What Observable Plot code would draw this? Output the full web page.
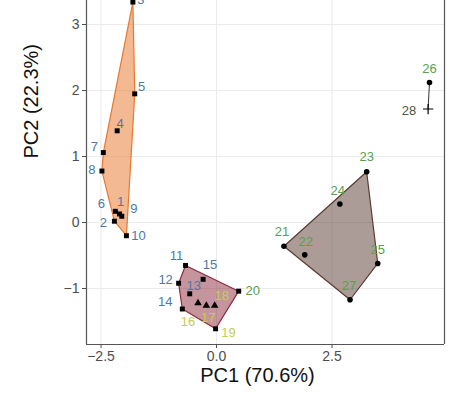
<!DOCTYPE html>
<html>
<head>
<meta charset="utf-8">
<script src="https://cdn.jsdelivr.net/npm/d3@7"></script>
<script src="https://cdn.jsdelivr.net/npm/@observablehq/plot@0.6"></script>
<style>
  html, body { margin: 0; padding: 0; background: #fff; }
  #chart { width: 450px; height: 403px; overflow: hidden; }
</style>
</head>
<body>
<div id="chart"></div>
<script>
// Sample scores on the first two principal components
const sampleIds = [1, 2, 3, 4, 5, 6, 7, 8, 9, 10,
                   11, 12, 13, 14, 15, 16, 17, 18, 19, 20,
                   21, 22, 23, 24, 25, 26, 27, 28];
const pc1 = [-2.10, -2.21, -1.81, -2.15, -1.77, -2.19, -2.45, -2.48, -2.05, -1.95,
             -0.67, -0.82, -0.58, -0.74, -0.29, -0.40, -0.22, -0.04, -0.02, 0.48,
             1.46, 1.91, 3.25, 2.67, 3.49, 4.61, 2.89, 4.58];
const pc2 = [0.13, 0.02, 3.34, 1.39, 1.95, 0.17, 1.06, 0.78, 0.095, -0.20,
             -0.65, -0.92, -1.08, -1.31, -0.86, -1.22, -1.26, -1.26, -1.61, -1.04,
             -0.36, -0.49, 0.77, 0.28, -0.62, 2.12, -1.17, 1.72];
// Cluster used for the hulls
const cluster = ["A", "A", "A", "A", "A", "A", "A", "A", "A", "A",
                 "B", "B", "B", "B", "B", "B", "B", "B", "B", "B",
                 "C", "C", "C", "C", "C", "D", "C", "D"];
// Grouping used for label colour
const origin = ["g1", "g1", "g1", "g1", "g1", "g1", "g1", "g1", "g1", "g1",
                "g1", "g1", "g1", "g1", "g1", "g2", "g2", "g2", "g2", "g3",
                "g3", "g3", "g3", "g3", "g3", "g3", "g3", "g4"];
// Marker shape per sample
const shape = ["square", "square", "square", "square", "square", "square", "square", "square", "square", "square",
               "square", "square", "square", "square", "square", "triangle", "triangle", "triangle", "square", "square",
               "circle", "circle", "circle", "circle", "circle", "circle", "circle", "plus"];

const xTicks = [-2.5, 0, 2.5];
const yTicks = [-1, 0, 1, 2, 3];

const samples = sampleIds.map((id, i) => ({
  id, pc1: pc1[i], pc2: pc2[i], cluster: cluster[i], origin: origin[i], shape: shape[i]
}));

// Styling
const hullColor = {A: "#e8782f", B: "#8c2a3c", C: "#5a3a30"};
const hullOpacity = {A: 0.52, B: 0.5, C: 0.5};
const labelColor = {g1: "#4e79a7", g2: "#c3cc55", g3: "#59a14f", g4: "#4f5640"};
// Repelled label placement (pixel offsets from each point)
const nudge = {
  1: [1, -12], 2: [-11, 2], 3: [8, -2], 4: [3, -7], 5: [7, -7], 6: [-14, -7], 7: [-9, -6], 8: [-10, -1],
  9: [12, -7], 10: [12, 0], 11: [-9, -10], 12: [-13, -3], 13: [4, -8], 14: [-17, -7], 15: [7, -14],
  16: [-10, 19], 17: [2, 12], 18: [7, -10], 19: [13, 4], 20: [14, 0], 21: [-2, -14], 22: [1, -13],
  23: [0, -15], 24: [-2, -13], 25: [0, -14], 26: [0, -14], 27: [-1, -14], 28: [-19, 2]
};

const font = "'Liberation Sans', Arial, Helvetica, sans-serif";
const xDomain = [-2.814, 4.935];
const yDomain = [-1.848, 3.364];

const hulls = ["A", "B", "C"].map(g =>
  Plot.hull(samples.filter(d => d.cluster === g), {
    x: "pc1", y: "pc2",
    fill: hullColor[g], fillOpacity: hullOpacity[g],
    stroke: hullColor[g], strokeWidth: 1.2
  })
);

const labels = samples.map(d =>
  Plot.text([d], {
    x: "pc1", y: "pc2", text: d => String(d.id),
    dx: nudge[d.id][0], dy: nudge[d.id][1],
    fill: labelColor[d.origin], fontSize: 13
  })
);

const chart = Plot.plot({
  width: 450,
  height: 403,
  marginLeft: 86,
  marginRight: 6,
  marginTop: 0,
  marginBottom: 59,
  style: {fontFamily: font, fontSize: "14px", color: "#4d4d4d", background: "#fff"},
  x: {domain: xDomain, ticks: xTicks, tickFormat: d3.format(".1f"), tickSize: 4, tickPadding: 3, label: null},
  y: {domain: yDomain, ticks: yTicks, tickFormat: d3.format("d"), tickSize: 4, tickPadding: 3, label: null},
  symbol: {domain: ["square", "triangle", "circle", "plus"], range: ["square", "triangle", "circle", "plus"]},
  marks: [
    Plot.ruleX(xTicks, {stroke: "#ebebeb", strokeWidth: 1.1}),
    Plot.ruleY(yTicks, {stroke: "#ebebeb", strokeWidth: 1.1}),
    ...hulls,
    Plot.line(samples.filter(d => d.cluster === "D"), {x: "pc1", y: "pc2", stroke: "#333", strokeWidth: 1}),
    Plot.dot(samples.filter(d => d.shape !== "plus"), {x: "pc1", y: "pc2", symbol: "shape", fill: "#000", r: 2.8}),
    Plot.dot(samples.filter(d => d.shape === "plus"), {x: "pc1", y: "pc2", symbol: "shape", stroke: "#000", strokeWidth: 1.2, r: 3.4}),
    ...labels,
    // panel border: left, right and bottom
    Plot.ruleX(xDomain, {stroke: "#555", strokeWidth: 1.2}),
    Plot.ruleY([yDomain[0]], {stroke: "#555", strokeWidth: 1.2}),
    // axis titles
    Plot.text(["PC1 (70.6%)"], {frameAnchor: "bottom", text: d => d, dx: -8, dy: 37, fontSize: 20, fill: "#111"}),
    Plot.text(["PC2 (22.3%)"], {frameAnchor: "left", text: d => d, rotate: -90, dx: -55, dy: -14, fontSize: 20, fill: "#111"})
  ]
});

document.getElementById("chart").append(chart);
</script>
</body>
</html>
